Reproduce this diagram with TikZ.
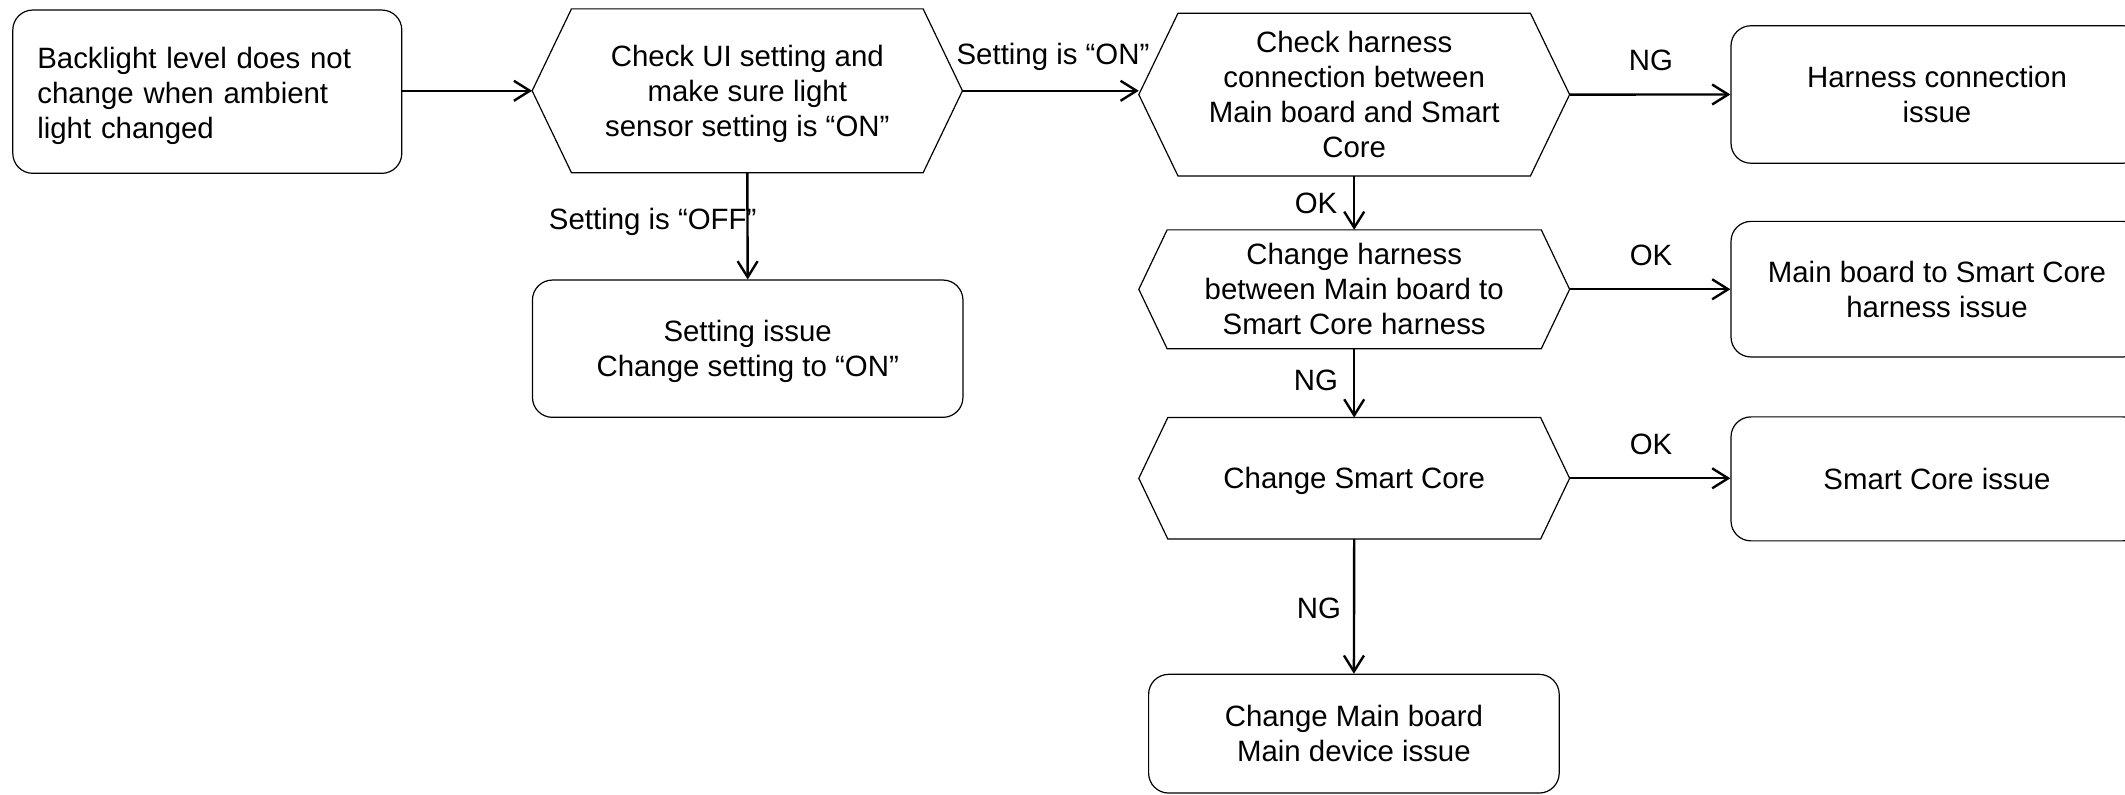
\documentclass[tikz,border=0pt]{standalone}
\usepackage{fontspec}
\setmainfont{Liberation Sans}
\usetikzlibrary{arrows.meta,calc}
\newcommand\hexof[2]{\draw[hexline] (#1.west) -- ($(#1.north west)+(#2,0)$) -- ($(#1.north east)-(#2,0)$) -- (#1.east) -- ($(#1.south east)-(#2,0)$) -- ($(#1.south west)+(#2,0)$) -- cycle;}
\begin{document}
\begin{tikzpicture}[x=0.5pt,y=-0.5pt,
  every node/.style={font=\fontsize{14.7}{17.5}\selectfont},
  rbox/.style={draw, line width=0.6pt, rounded corners=10pt, inner sep=0pt, align=center},
  tdep/.style={text depth=-1.6pt},
  hexbox/.style={inner sep=0pt, align=center, tdep},
  hexline/.style={line width=0.6pt},
  arr/.style={line width=1.2pt, -{Straight Barb[length=8pt,width=10pt]}},
  lbl/.style={inner sep=0pt}]
\useasboundingbox (0,0) rectangle (2125,795);
\fill[white] (0,0) rectangle (2125,795);

\node[rbox, minimum width=194.5pt, minimum height=81.65pt, text width=170pt, align=left, text depth=34pt] (b1) at (207.3,91.7) {Backlight level does not\\change when ambient\\light changed};
\node[hexbox, minimum width=214.75pt, minimum height=81.5pt] (h1) at (747.3,90.8) {Check UI setting and\\make sure light\\sensor setting is “ON”};
\hexof{h1}{39.3}
\node[rbox, tdep, minimum width=215.25pt, minimum height=68.65pt] (s1) at (747.7,348.7) {Setting issue\\Change setting to “ON”};

\node[hexbox, minimum width=215pt, minimum height=81pt] (h2) at (1354.2,94.6) {Check harness\\connection between\\Main board and Smart\\Core};
\hexof{h2}{39.2}
\node[rbox, tdep, minimum width=206pt, minimum height=68.75pt] (r1) at (1937,94.5) {Harness connection\\issue};

\node[hexbox, minimum width=215pt, minimum height=59pt] (h3) at (1354.2,289.3) {Change harness\\between Main board to\\Smart Core harness};
\hexof{h3}{28.3}
\node[rbox, tdep, minimum width=206pt, minimum height=67.8pt] (r2) at (1937,289.2) {Main board to Smart Core\\harness issue};

\node[hexbox, minimum width=215pt, minimum height=60.35pt] (h4) at (1354.2,478.3) {Change Smart Core};
\hexof{h4}{29}
\node[rbox, tdep, minimum width=206pt, minimum height=62pt] (r3) at (1937,478.9) {Smart Core issue};

\node[rbox, tdep, minimum width=205.3pt, minimum height=59.35pt] (r4) at (1353.9,733.7) {Change Main board\\Main device issue};

\draw[arr] (b1.east |- h1.west) -- (h1.west);
\draw[arr] (h1.east) -- (h1.east -| h2.west) node[lbl] at (1053,57) {Setting is “ON”};
\draw[arr] (h1.south) -- (s1.north) node[lbl] at (652.7,222) {Setting is “OFF”};
\draw[arr] (h2.east) -- (r1.west) node[lbl] at (1651,60) {NG};
\draw[arr] (h2.south) -- (h3.north) node[lbl] at (1316,203) {OK};
\draw[arr] (h3.east) -- (h3.east -| r2.west) node[lbl] at (1651,255) {OK};
\draw[arr] (h3.south) -- (h4.north) node[lbl] at (1316,380) {NG};
\draw[arr] (h4.east) -- (h4.east -| r3.west) node[lbl] at (1651,444) {OK};
\draw[arr] (h4.south) -- (r4.north) node[lbl] at (1319,608) {NG};
\end{tikzpicture}
\end{document}
